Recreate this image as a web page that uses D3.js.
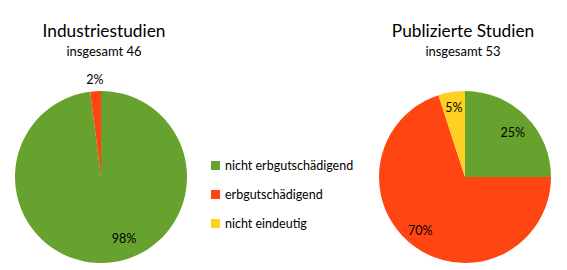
<!DOCTYPE html>
<html><head><meta charset="utf-8">
<script src="https://cdn.jsdelivr.net/npm/d3@7"></script>
<style>body{margin:0;background:#fff}svg{display:block;font-family:Lato,"Open Sans",sans-serif}</style>
</head><body>
<svg id="c" width="567" height="270"></svg>
<script>
const categories = ["nicht erbgutschädigend", "erbgutschädigend", "nicht eindeutig"];
const colors = ["#67A22E", "#FF4511", "#FFD022"];
const industryValues = [98, 2, 0];
const publishedValues = [25, 70, 5];
const chartTitles = ["Industriestudien", "Publizierte Studien"];
const chartSubtitles = ["insgesamt 46", "insgesamt 53"];

const svg = d3.select("#c");
const color = d3.scaleOrdinal().domain(categories).range(colors);
const pie = d3.pie().sort(null).value(d => d.v);
const R = 86;
const arc = d3.arc().innerRadius(0).outerRadius(R);

const charts = [
  {cx: 101, cy: 177, values: industryValues, tx: 104, labelR: [0.76, 1.13], labelRot: [-17, 0]},
  {cx: 465, cy: 177, values: publishedValues, tx: 463, labelR: [0.76, 0.81, 0.82], labelRot: [2, 4, 0]}
];

charts.forEach((c, i) => {
  const data = categories.map((k, j) => ({k, v: c.values[j]}));
  const arcs = pie(data).filter(a => a.data.v > 0);
  const g = svg.append("g").attr("transform", `translate(${c.cx},${c.cy})`);
  g.selectAll("path").data(arcs).join("path")
    .attr("d", arc).attr("fill", d => color(d.data.k));
  g.selectAll("text").data(arcs).join("text")
    .attr("transform", (d, j) => {
      const r = R * (c.labelR[j] ?? 0.7);
      const a = (d.startAngle + d.endAngle) / 2 + (c.labelRot[j] || 0) * Math.PI / 180;
      return `translate(${Math.sin(a) * r},${-Math.cos(a) * r})`;
    })
    .attr("text-anchor", "middle").attr("dy", "0.35em")
    .attr("font-size", 12.5).attr("fill", "#000")
    .text(d => d.data.v + "%");
  svg.append("text").attr("x", c.tx).attr("y", 37).attr("text-anchor", "middle")
    .attr("font-size", 17.3).attr("fill", "#000").text(chartTitles[i]);
  svg.append("text").attr("x", c.tx).attr("y", 56).attr("text-anchor", "middle")
    .attr("font-size", 13).attr("fill", "#000").text(chartSubtitles[i]);
});

const lg = svg.append("g").attr("transform", "translate(211,161)");
const rows = lg.selectAll("g").data(categories).join("g")
  .attr("transform", (d, j) => `translate(0,${j * 29})`);
rows.append("rect").attr("width", 9).attr("height", 9).attr("fill", d => color(d));
rows.append("text").attr("x", 14).attr("y", 9).attr("font-size", 12.5).attr("fill", "#000").text(d => d);
</script>
</body></html>
